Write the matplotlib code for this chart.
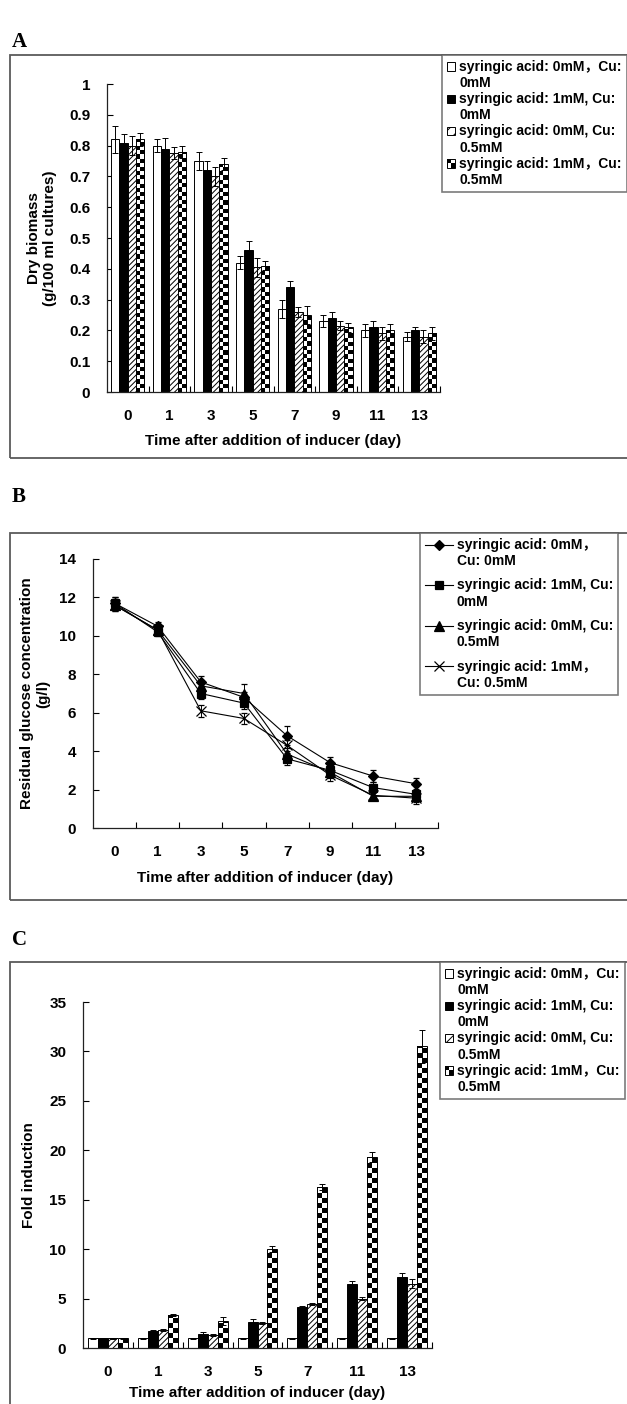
import math
import matplotlib
matplotlib.use("Agg")
import matplotlib.pyplot as plt
import numpy as np
from matplotlib.patches import Rectangle
from matplotlib.lines import Line2D
from matplotlib.legend_handler import HandlerBase
from matplotlib.ticker import FixedLocator, FuncFormatter

plt.rcParams["font.family"] = ["Liberation Sans", "Noto Sans CJK SC"]
plt.rcParams["font.weight"] = "bold"
plt.rcParams["axes.labelweight"] = "bold"
plt.rcParams["hatch.linewidth"] = 0.7

W, H = 627, 1404

# ---------------- data ----------------
days_ab = ["0", "1", "3", "5", "7", "9", "11", "13"]
days_c = ["0", "1", "3", "5", "7", "11", "13"]

labels_bar = ["syringic acid: 0mM\uff0cCu:\n0mM",
              "syringic acid: 1mM, Cu:\n0mM",
              "syringic acid: 0mM, Cu:\n0.5mM",
              "syringic acid: 1mM\uff0cCu:\n0.5mM"]
labels_line = ["syringic acid: 0mM\uff0c\nCu: 0mM",
               "syringic acid: 1mM, Cu:\n0mM",
               "syringic acid: 0mM, Cu:\n0.5mM",
               "syringic acid: 1mM\uff0c\nCu: 0.5mM"]

# A: dry biomass (g/100 ml cultures)
bio_sa0_cu0 = [0.82, 0.80, 0.75, 0.42, 0.27, 0.23, 0.20, 0.18]
bio_sa1_cu0 = [0.81, 0.79, 0.72, 0.46, 0.34, 0.24, 0.21, 0.20]
bio_sa0_cu05 = [0.80, 0.775, 0.70, 0.405, 0.26, 0.215, 0.19, 0.18]
bio_sa1_cu05 = [0.82, 0.78, 0.74, 0.41, 0.25, 0.21, 0.20, 0.19]
bio_err_sa0_cu0 = [0.045, 0.02, 0.03, 0.02, 0.03, 0.02, 0.02, 0.015]
bio_err_sa1_cu0 = [0.027, 0.035, 0.03, 0.03, 0.02, 0.02, 0.02, 0.01]
bio_err_sa0_cu05 = [0.03, 0.02, 0.03, 0.03, 0.015, 0.015, 0.02, 0.02]
bio_err_sa1_cu05 = [0.02, 0.02, 0.02, 0.015, 0.03, 0.015, 0.02, 0.02]

# B: residual glucose (g/l)
glc_sa0_cu0 = [11.7, 10.5, 7.6, 6.8, 4.8, 3.4, 2.7, 2.3]
glc_sa1_cu0 = [11.7, 10.2, 7.0, 6.5, 3.6, 3.0, 2.1, 1.75]
glc_sa0_cu05 = [11.6, 10.3, 7.4, 7.0, 3.85, 2.9, 1.65, 1.65]
glc_sa1_cu05 = [11.6, 10.3, 6.1, 5.7, 4.3, 2.75, 1.7, 1.55]
glc_err_sa0_cu0 = [0.3, 0.2, 0.3, 0.3, 0.5, 0.3, 0.3, 0.3]
glc_err_sa1_cu0 = [0.3, 0.2, 0.3, 0.3, 0.3, 0.3, 0.3, 0.3]
glc_err_sa0_cu05 = [0.3, 0.2, 0.3, 0.5, 0.3, 0.3, 0.2, 0.3]
glc_err_sa1_cu05 = [0.3, 0.2, 0.3, 0.3, 0.3, 0.3, 0.2, 0.3]

# C: fold induction
fold_sa0_cu0 = [1.0, 1.0, 1.0, 1.0, 1.0, 1.0, 1.0]
fold_sa1_cu0 = [1.0, 1.7, 1.45, 2.6, 4.1, 6.5, 7.2]
fold_sa0_cu05 = [1.0, 1.85, 1.35, 2.5, 4.45, 5.0, 6.5]
fold_sa1_cu05 = [1.0, 3.3, 2.7, 10.0, 16.3, 19.3, 30.5]
fold_err_sa0_cu0 = [0.05, 0.05, 0.05, 0.05, 0.05, 0.05, 0.05]
fold_err_sa1_cu0 = [0.05, 0.13, 0.2, 0.37, 0.1, 0.3, 0.4]
fold_err_sa0_cu05 = [0.05, 0.1, 0.1, 0.1, 0.1, 0.17, 0.44]
fold_err_sa1_cu05 = [0.05, 0.1, 0.4, 0.27, 0.27, 0.5, 1.7]

fig = plt.figure(figsize=(W / 100, H / 100), dpi=100)
FS = 10
EDGE = "#5a5a5a"


def px_axes(l, t, r, b):
    return fig.add_axes([l / W, 1 - b / H, (r - l) / W, (b - t) / H])


def frame(t, b):
    fig.patches.append(Rectangle((10 / W, 1 - b / H), 1.0, (b - t) / H, transform=fig.transFigure,
                                 fill=False, edgecolor=EDGE, lw=1.3))


def style_axes(ax, cats, ymax, ystep, fmt):
    n = len(cats)
    ax.set_xlim(-0.5, n - 0.5)
    ax.set_ylim(0, ymax)
    ax.set_xticks(range(n))
    ax.set_xticklabels(cats)
    ax.xaxis.set_minor_locator(FixedLocator(np.arange(0.5, n, 1.0)))
    ax.set_yticks(np.arange(0, ymax + ystep / 2, ystep))
    ax.yaxis.set_major_formatter(FuncFormatter(lambda v, p: fmt % v))
    ax.tick_params(axis="x", which="major", length=0, pad=12, labelsize=FS + 1)
    ax.tick_params(axis="x", which="minor", direction="in", length=4, width=0.8)
    ax.tick_params(axis="y", direction="in", length=4, width=0.8, pad=12, labelsize=FS + 1)
    for s in ["top", "right"]:
        ax.spines[s].set_visible(False)
    for s in ["left", "bottom"]:
        ax.spines[s].set_linewidth(0.9)
        ax.spines[s].set_color("#222222")


# ---------- legend handlers ----------
class SwatchKey:
    def __init__(self, kind):
        self.kind = kind


class HandlerSwatch(HandlerBase):
    def create_artists(self, legend, orig, xd, yd, width, height, fontsize, trans):
        s = fontsize * 0.6
        x0 = -xd
        y0 = 1.0 * fontsize - s / 2
        arts = []
        if orig.kind == "white":
            arts.append(Rectangle((x0, y0), s, s, fc="white", ec="black", lw=0.7, transform=trans))
        elif orig.kind == "black":
            arts.append(Rectangle((x0, y0), s, s, fc="black", ec="black", lw=0.7, transform=trans))
        elif orig.kind == "hatch":
            arts.append(Rectangle((x0, y0), s, s, fc="white", ec="black", lw=0.7, hatch="///",
                                  transform=trans))
        else:
            h = s / 2
            arts.append(Rectangle((x0, y0), s, s, fc="white", ec="black", lw=0.7, transform=trans))
            arts.append(Rectangle((x0, y0 + h), h, h, fc="black", ec="none", transform=trans))
            arts.append(Rectangle((x0 + h, y0), h, h, fc="black", ec="none", transform=trans))
        return arts


class HandlerLineTop(HandlerBase):
    def create_artists(self, legend, orig, xd, yd, width, height, fontsize, trans):
        y = 1.0 * fontsize
        ln = Line2D([-xd, -xd + width], [y, y], color="black", lw=0.8, transform=trans)
        mk = Line2D([-xd + width / 2], [y], ls="none", marker=orig.get_marker(),
                    markersize=orig.get_markersize(), color="black",
                    markeredgewidth=orig.get_markeredgewidth(), transform=trans)
        return [ln, mk]


def make_legend(handles, labels, lx, ty, hmap, hl, lsp, tpad):
    leg = fig.legend(handles, labels, loc="upper left", bbox_to_anchor=(lx / W, 1 - ty / H),
                     handler_map=hmap, fontsize=FS, frameon=True, fancybox=False,
                     borderaxespad=0, handlelength=hl, handleheight=2.0, handletextpad=tpad,
                     labelspacing=lsp, borderpad=0.35)
    leg.get_frame().set_edgecolor(EDGE)
    leg.get_frame().set_linewidth(1.2)
    return leg


def bar_panel(ax, cats, series, errs, ymax, ax_w_px, ax_h_px):
    n = len(cats)
    x = np.arange(n)
    w = 0.2
    bar_w_px = w * ax_w_px / n
    sq_h = (bar_w_px / 2) * ymax / ax_h_px
    kinds = ["white", "black", "hatch", "checker"]
    for k, (vals, err) in enumerate(zip(series, errs)):
        pos = x + (k - 1.5) * w
        kind = kinds[k]
        if kind == "white":
            bars = ax.bar(pos, vals, w, facecolor="white", edgecolor="black", lw=0.7, zorder=2)
        elif kind == "black":
            bars = ax.bar(pos, vals, w, facecolor="black", edgecolor="black", lw=0.7, zorder=2)
        elif kind == "hatch":
            bars = ax.bar(pos, vals, w, facecolor="white", edgecolor="black", lw=0.7,
                          hatch="//////", zorder=2)
        else:
            bars = ax.bar(pos, vals, w, facecolor="none", edgecolor="black", lw=0.7, zorder=3)
            for b in bars:
                bx, bh = b.get_x(), b.get_height()
                nrows = max(1, math.ceil(bh / sq_h))
                board = np.indices((nrows, 2)).sum(axis=0) % 2
                im = ax.imshow(board, extent=(bx, bx + w, 0, nrows * sq_h), origin="lower",
                               cmap="gray", vmin=0, vmax=1, interpolation="nearest",
                               aspect="auto", zorder=2)
                im.set_clip_path(b)
        ax.errorbar(pos, vals, yerr=err, fmt="none", ecolor="black", elinewidth=0.7,
                    capsize=2.5, capthick=0.7, zorder=4)


# ================= A =================
fig.text(12 / W, 1 - 42 / H, "A", family="Liberation Serif", weight="bold", fontsize=15, va="center")
frame(55, 458)
axA = px_axes(107, 84, 440, 392)
bar_panel(axA, days_ab, [bio_sa0_cu0, bio_sa1_cu0, bio_sa0_cu05, bio_sa1_cu05],
          [bio_err_sa0_cu0, bio_err_sa1_cu0, bio_err_sa0_cu05, bio_err_sa1_cu05],
          1.0, 333, 308)
style_axes(axA, days_ab, 1.0, 0.1, "%g")
axA.set_ylabel("Dry biomass\n(g/100 ml cultures)", fontsize=FS + 1, linespacing=1.15)
axA.yaxis.set_label_coords(-0.15, 0.5)
axA.set_xlabel("Time after addition of inducer (day)", fontsize=FS + 1)
axA.xaxis.set_label_coords(0.5, -0.135)
bar_handles = [SwatchKey("white"), SwatchKey("black"), SwatchKey("hatch"), SwatchKey("checker")]
make_legend(bar_handles, labels_bar, 442, 55, {SwatchKey: HandlerSwatch()}, 0.6, 0.15, 0.3)

# ================= B =================
fig.text(12 / W, 1 - 497 / H, "B", family="Liberation Serif", weight="bold", fontsize=15, va="center")
frame(533, 900)
axB = px_axes(93, 559, 438, 828)
glc_series = [glc_sa0_cu0, glc_sa1_cu0, glc_sa0_cu05, glc_sa1_cu05]
glc_errs = [glc_err_sa0_cu0, glc_err_sa1_cu0, glc_err_sa0_cu05, glc_err_sa1_cu05]
markers = ["D", "s", "^", "x"]
msizes = [5.5, 6, 6.5, 7]
line_handles = []
xb = np.arange(len(days_ab))
for vals, err, m, ms in zip(glc_series, glc_errs, markers, msizes):
    axB.errorbar(xb, vals, yerr=err, fmt="-", marker=m, ms=ms, color="black", lw=0.8,
                 mew=0.9, elinewidth=0.7, capsize=2.5, capthick=0.7)
    line_handles.append(Line2D([], [], marker=m, markersize=ms, color="black", markeredgewidth=0.9))
style_axes(axB, days_ab, 14, 2, "%d")
axB.set_ylabel("Residual glucose concentration\n(g/l)", fontsize=FS + 1, linespacing=1.15)
axB.yaxis.set_label_coords(-0.125, 0.5)
axB.set_xlabel("Time after addition of inducer (day)", fontsize=FS + 1)
axB.xaxis.set_label_coords(0.5, -0.16)
make_legend(line_handles, labels_line, 420, 533, {Line2D: HandlerLineTop()}, 2.0, 0.75, 0.3)

# ================= C =================
fig.text(12 / W, 1 - 940 / H, "C", family="Liberation Serif", weight="bold", fontsize=15, va="center")
frame(962, 1420)
axC = px_axes(83, 1002, 432, 1348)
bar_panel(axC, days_c, [fold_sa0_cu0, fold_sa1_cu0, fold_sa0_cu05, fold_sa1_cu05],
          [fold_err_sa0_cu0, fold_err_sa1_cu0, fold_err_sa0_cu05, fold_err_sa1_cu05],
          35, 349, 346)
style_axes(axC, days_c, 35, 5, "%d")
axC.set_ylabel("Fold induction", fontsize=FS + 1)
axC.yaxis.set_label_coords(-0.135, 0.5)
axC.set_xlabel("Time after addition of inducer (day)", fontsize=FS + 1)
axC.xaxis.set_label_coords(0.5, -0.11)
make_legend(bar_handles, labels_bar, 440, 962, {SwatchKey: HandlerSwatch()}, 0.6, 0.15, 0.3)

fig.savefig("out.png", dpi=100)
